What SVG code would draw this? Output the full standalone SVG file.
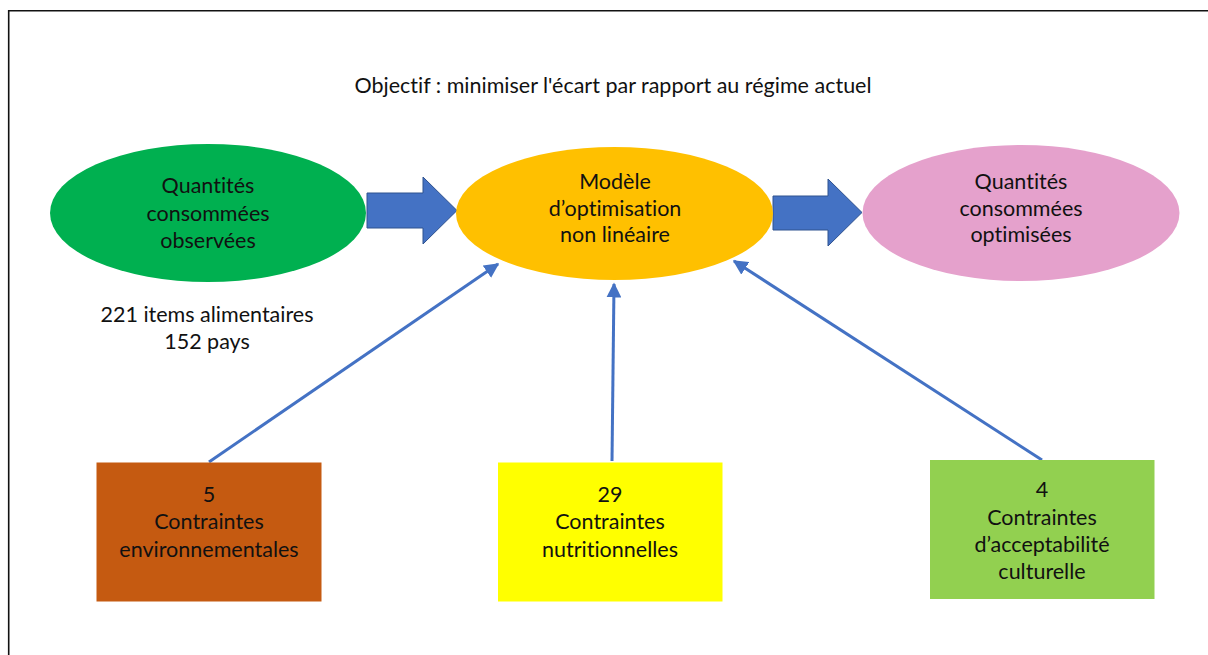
<svg xmlns="http://www.w3.org/2000/svg" width="1208" height="655" viewBox="0 0 1208 655">
<style>
text{font-family:Lato,"Open Sans","Liberation Sans",sans-serif;font-size:21.5px;fill:#111;text-anchor:middle;font-variant-ligatures:none;font-feature-settings:"liga" 0,"clig" 0}
.big{fill:#4472C4;stroke:#2F528F;stroke-width:1}
.con{stroke:#4472C4;stroke-width:3;fill:none;marker-end:url(#ah)}
</style>
<defs>
<marker id="ah" viewBox="0 0 10 10" refX="9" refY="5" markerWidth="5" markerHeight="5" markerUnits="strokeWidth" orient="auto">
<path d="M0,0L10,5L0,10z" fill="#4472C4"/>
</marker>
</defs>
<rect width="1208" height="655" fill="#fff"/>
<path d="M8.7,655V10.8H1208" fill="none" stroke="#111" stroke-width="1.6"/>
<text id="title" x="613" y="93">Objectif : minimiser l'écart par rapport au régime actuel</text>
<g id="connectors">
<path class="big" d="M367,193H423V177L457,210.5L423,244V228H367Z"/>
<path class="big" d="M773,196H828V179L862,212.5L828,246V230H773Z"/>
<line class="con" x1="209" y1="462" x2="498" y2="264"/>
<line class="con" x1="612" y1="461" x2="614" y2="284"/>
<line class="con" x1="1042" y1="460" x2="734" y2="261"/>
</g>
<g id="observed">
<ellipse cx="208" cy="213" rx="158" ry="69" fill="#00B050"/>
<text x="208" y="193">Quantités</text>
<text x="208" y="220.5">consommées</text>
<text x="208" y="247.5">observées</text>
</g>
<g id="model">
<ellipse cx="614.5" cy="213.5" rx="158.5" ry="66.5" fill="#FFC000"/>
<text x="615" y="188.5">Modèle</text>
<text x="615" y="216">d’optimisation</text>
<text x="615" y="242">non linéaire</text>
</g>
<g id="optimized">
<ellipse cx="1021" cy="213" rx="158.5" ry="68" fill="#E5A1CC"/>
<text x="1021" y="188.5">Quantités</text>
<text x="1021" y="215.5">consommées</text>
<text x="1021" y="242">optimisées</text>
</g>
<g id="items">
<text x="207" y="322">221 items alimentaires</text>
<text x="207" y="348.5">152 pays</text>
</g>
<g id="env">
<rect x="96.5" y="462.5" width="225" height="139" fill="#C55A11"/>
<text x="209" y="501.5">5</text>
<text x="209" y="529">Contraintes</text>
<text x="209" y="556.5">environnementales</text>
</g>
<g id="nutri">
<rect x="498" y="462.5" width="224.5" height="139" fill="#FFFF00"/>
<text x="610" y="501.5">29</text>
<text x="610" y="529">Contraintes</text>
<text x="610" y="556.5">nutritionnelles</text>
</g>
<g id="culture">
<rect x="930" y="460" width="224.5" height="139" fill="#92D050"/>
<text x="1042" y="497">4</text>
<text x="1042" y="524.5">Contraintes</text>
<text x="1042" y="552">d’acceptabilité</text>
<text x="1042" y="579">culturelle</text>
</g>
</svg>
